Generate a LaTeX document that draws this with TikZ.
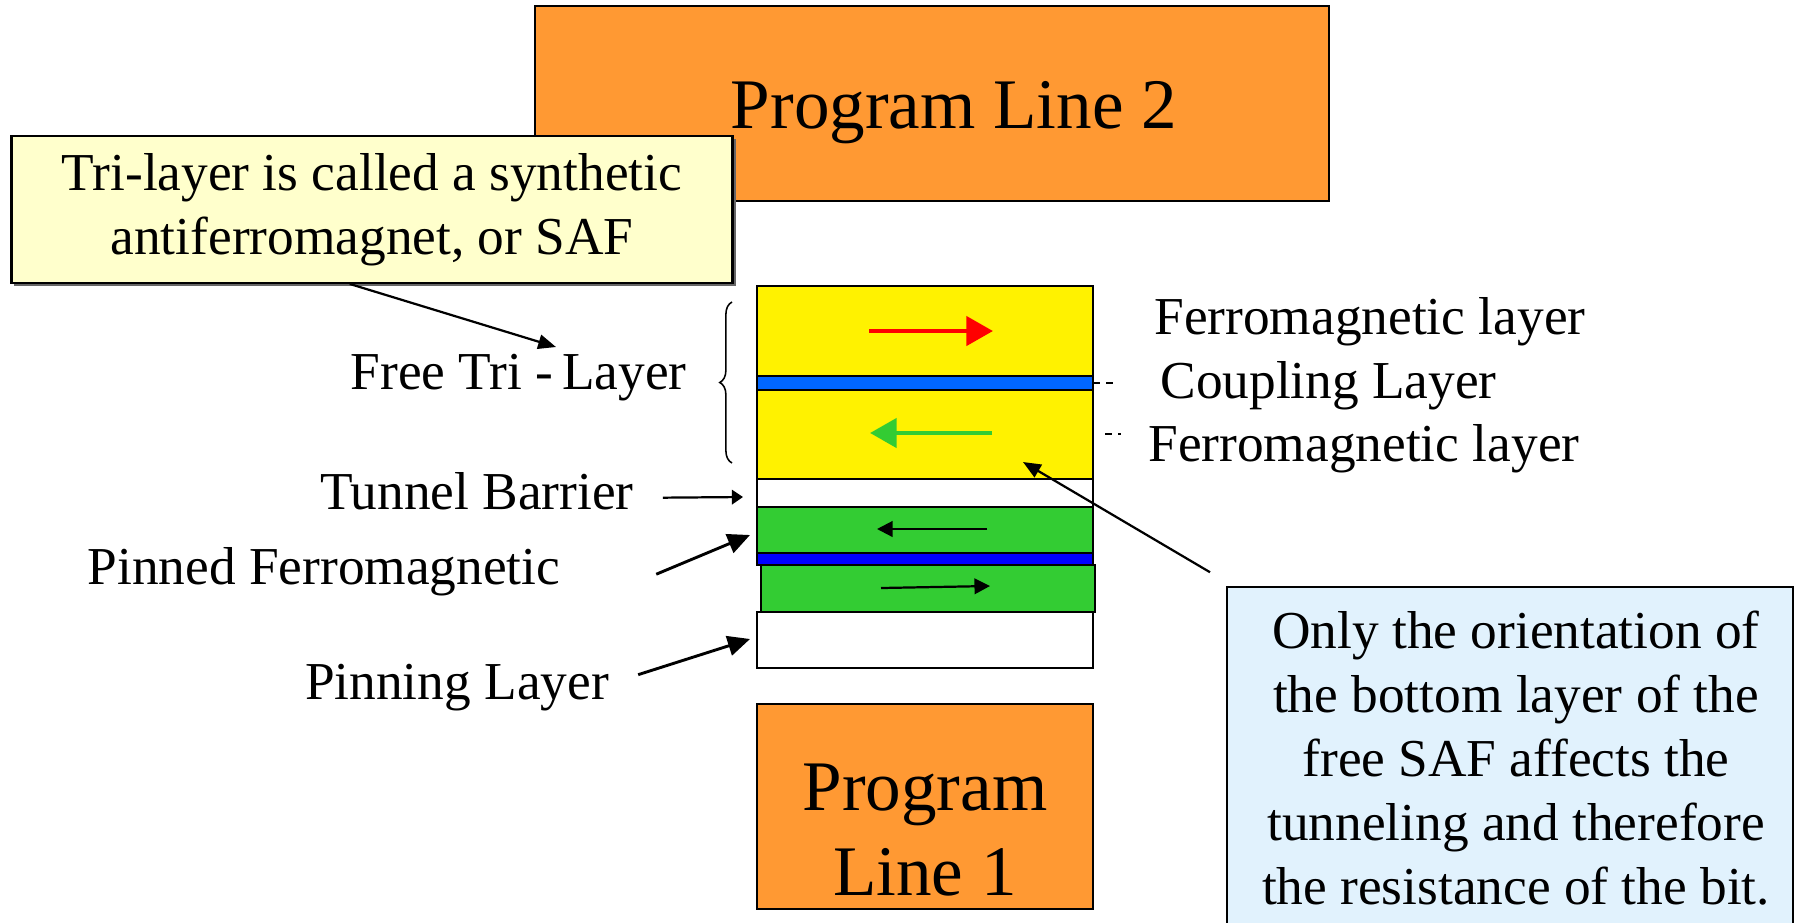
\documentclass[tikz,border=0pt]{standalone}
\usepackage{fontspec}
\setmainfont{Liberation Serif}
\usetikzlibrary{arrows.meta,decorations.pathreplacing}
\definecolor{plorange}{RGB}{255,153,51}
\definecolor{notey}{RGB}{255,255,204}
\definecolor{noteb}{RGB}{225,242,253}
\definecolor{cplblue}{RGB}{0,102,255}
\definecolor{rublue}{RGB}{0,0,255}
\definecolor{pinned}{RGB}{51,204,51}

\begin{document}
\begin{tikzpicture}[x=0.45pt,y=-0.45pt,
    big/.style={font=\fontsize{32}{38}\selectfont},
    lbl/.style={font=\fontsize{24}{28.8}\selectfont, inner sep=0pt},
    box/.style={draw, line width=1pt, inner sep=0pt},
    layer/.style={draw, line width=1pt},
    pointer/.style={line width=1pt, -{Triangle[length=8pt,width=6.5pt]}},
    bigpointer/.style={line width=1.3pt, -{Triangle[length=10pt,width=9pt]}}]
        \useasboundingbox (0,0) rectangle (1804,922);
        \begin{scope}[overlay]
        \clip (0,0) rectangle (1804,922);
        \fill[white] (0,0) rectangle (1804,922);

        % Program lines
        \node[box, fill=plorange, minimum width=357pt, minimum height=88pt] (pl2) at (932,103.5) {};
        \node[big] (pl2txt) at (954,113) {Program Line 2};
        \node[box, fill=plorange, minimum width=151pt, minimum height=92pt] (pl1) at (925,806.5) {};
        \node[big, align=center] (pl1txt) at (925,830) {Program\\Line 1};

        % Note box on top
        \fill[black!60] (14,139) rectangle (736,286);
        \node[box, fill=notey, minimum width=324.5pt, minimum height=66pt, lbl, align=center] (tri) at (372,209.5)
            {Tri-layer is called a synthetic\\antiferromagnet, or SAF};

        % Layer stack
        \draw[layer, fill=yellow] (757,286) rectangle (1093,376);
        \draw[layer, fill=cplblue] (757,376) rectangle (1093,390);
        \draw[layer, fill=yellow] (757,390) rectangle (1093,479);
        \draw[layer, fill=white] (757,479) rectangle (1093,507);
        \draw[layer, fill=pinned] (757,507) rectangle (1093,553);
        \draw[layer, fill=rublue] (757,553) rectangle (1093,565);
        \draw[layer, fill=pinned] (761,565) rectangle (1095,612);
        \draw[layer, fill=white] (757,612) rectangle (1093,668);

        % Magnetisation arrows
        \draw[red, line width=2.2pt, -{Triangle[length=12pt,width=13pt]}] (869,331) -- (993,331);
        \draw[pinned, line width=2.2pt, -{Triangle[length=12pt,width=13pt]}] (992,433) -- (870,433);
        \draw[pointer, -{Triangle[length=7pt,width=7pt]}] (987,529) -- (877,529);
        \draw[pointer, -{Triangle[length=7pt,width=7pt]}] (881,588) -- (990,586);

        % Left labels
        \node[lbl, anchor=east] (ftl) at (687,378) {Free Tri -\,Layer};
        \draw[decorate, decoration={brace, amplitude=5.5pt}, line width=0.7pt] (732,463) -- (732,302);
        \node[lbl, anchor=east] (tbl) at (634,491) {Tunnel Barrier};
        \node[lbl] (pfl) at (324,572) {Pinned Ferromagnetic};
        \node[lbl] (pnl) at (457,688) {Pinning Layer};

        \coordinate (ftip) at (556,347);
        \coordinate (ttip) at (743,497);
        \coordinate (ptip) at (750,535);
        \coordinate (ntip) at (750,639);
        \coordinate (stip) at (1023,462);

        \draw[pointer] ([xshift=-10pt]tri.south) -- (ftip);
        \draw[pointer, -{Triangle[length=5pt,width=6.5pt]}] ([xshift=13pt,yshift=-3pt]tbl.east) -- (ttip);
        \draw[bigpointer] ([xshift=43pt,yshift=-1pt]pfl.east) -- (ptip);
        \draw[bigpointer] ([xshift=13pt,yshift=6pt]pnl.east) -- (ntip);

        % Right labels
        \node[lbl, anchor=west] (fm1l) at (1154,322) {Ferromagnetic layer};
        \node[lbl, anchor=west] (cpll) at (1160,386) {Coupling Layer};
        \node[lbl, anchor=west] (fm2l) at (1148,449) {Ferromagnetic layer};
        \draw[dashed, line width=0.6pt] (1093,383) -- (1116,383);
        \draw[dashed, line width=0.6pt] (1105,434) -- (1121,434);

        % Note on the right
        \node[box, fill=noteb, minimum width=255pt, minimum height=165pt] (only) at (1510,770) {};
        \node[lbl, align=center] (onlytxt) at (1516,758)
            {Only the orientation of\\the bottom layer of the\\free SAF affects the\\tunneling and therefore\\the resistance of the bit.};
        \draw[pointer] ([xshift=-7pt,yshift=6pt]only.north west) -- (stip);
        \end{scope}
    \end{tikzpicture}
\end{document}
